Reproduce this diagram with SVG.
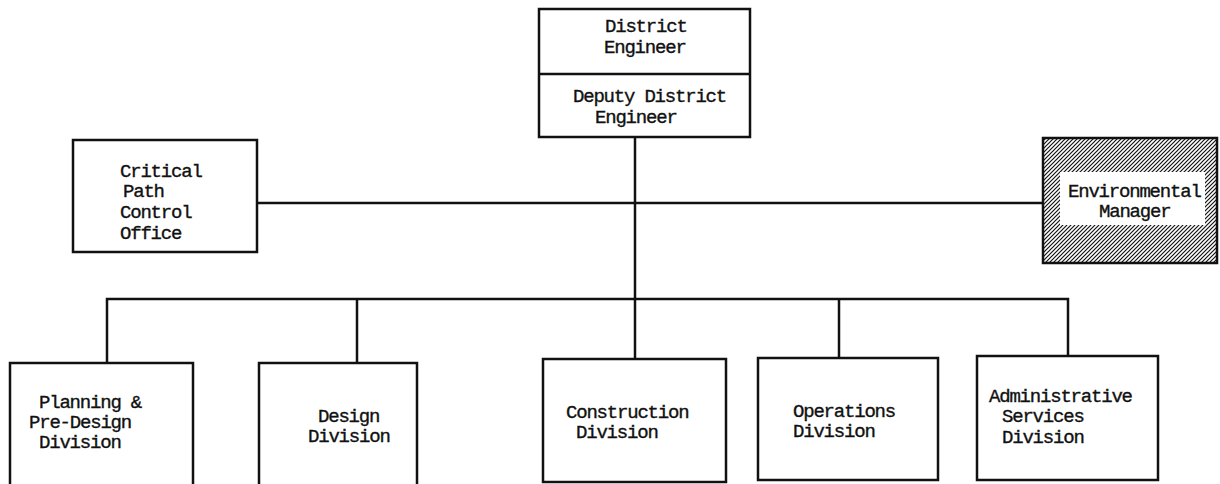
<svg xmlns="http://www.w3.org/2000/svg" width="1220" height="484" viewBox="0 0 1220 484">
  <style>
    .box { fill: #fff; stroke: #111; stroke-width: 2.5; }
    .wire { fill: none; stroke: #111; stroke-width: 2.5; }
    text { font-family: "Liberation Mono", "DejaVu Sans Mono", monospace; font-size: 19px; letter-spacing: -1.2px; fill: #111; stroke: #111; stroke-width: 0.35px; }
  </style>
  <defs>
    <pattern id="hatch" patternUnits="userSpaceOnUse" width="4" height="4">
      <rect width="4" height="4" fill="#fff"/>
      <path d="M-1,1 l2,-2 M0,4 l4,-4 M3,5 l2,-2" stroke="#111" stroke-width="1.2"/>
    </pattern>
  </defs>
  <rect width="1220" height="484" fill="#fff"/>

  <!-- connectors -->
  <g id="connectors">
    <line class="wire" x1="635" y1="137" x2="635" y2="359"/>
    <line class="wire" x1="257" y1="203" x2="1043" y2="203"/>
    <path class="wire" d="M107,363 V299 H1068 V356"/>
    <line class="wire" x1="357" y1="299" x2="357" y2="363"/>
    <line class="wire" x1="839" y1="299" x2="839" y2="358"/>
  </g>

  <g id="district-engineer">
    <rect class="box" x="539" y="9" width="211" height="128"/>
    <line class="wire" x1="539" y1="74" x2="750" y2="74"/>
    <text x="605" y="32">District</text>
    <text x="604" y="53">Engineer</text>
    <text x="573" y="102">Deputy District</text>
    <text x="595" y="123">Engineer</text>
  </g>

  <g id="critical-path">
    <rect class="box" x="73" y="140" width="184" height="112"/>
    <text x="120" y="177">Critical</text>
    <text x="123" y="197">Path</text>
    <text x="120" y="218">Control</text>
    <text x="120" y="239">Office</text>
  </g>

  <g id="environmental-manager">
    <rect x="1043" y="138" width="174" height="125" fill="url(#hatch)" stroke="#111" stroke-width="2.5"/>
    <rect x="1060" y="172" width="145" height="53" fill="#fff"/>
    <text x="1068" y="197">Environmental</text>
    <text x="1099" y="217">Manager</text>
  </g>

  <g id="planning">
    <rect class="box" x="10" y="363" width="183" height="124"/>
    <text x="39" y="408">Planning &amp;</text>
    <text x="29" y="428">Pre-Design</text>
    <text x="39" y="448">Division</text>
  </g>

  <g id="design">
    <rect class="box" x="259" y="363" width="158" height="124"/>
    <text x="318" y="422">Design</text>
    <text x="308" y="442">Division</text>
  </g>

  <g id="construction">
    <rect class="box" x="543" y="359" width="183" height="123"/>
    <text x="566" y="418">Construction</text>
    <text x="576" y="438">Division</text>
  </g>

  <g id="operations">
    <rect class="box" x="758" y="358" width="180" height="122"/>
    <text x="793" y="417">Operations</text>
    <text x="793" y="437">Division</text>
  </g>

  <g id="administrative">
    <rect class="box" x="977" y="356" width="181" height="124"/>
    <text x="989" y="402">Administrative</text>
    <text x="1002" y="422">Services</text>
    <text x="1002" y="443">Division</text>
  </g>
</svg>
